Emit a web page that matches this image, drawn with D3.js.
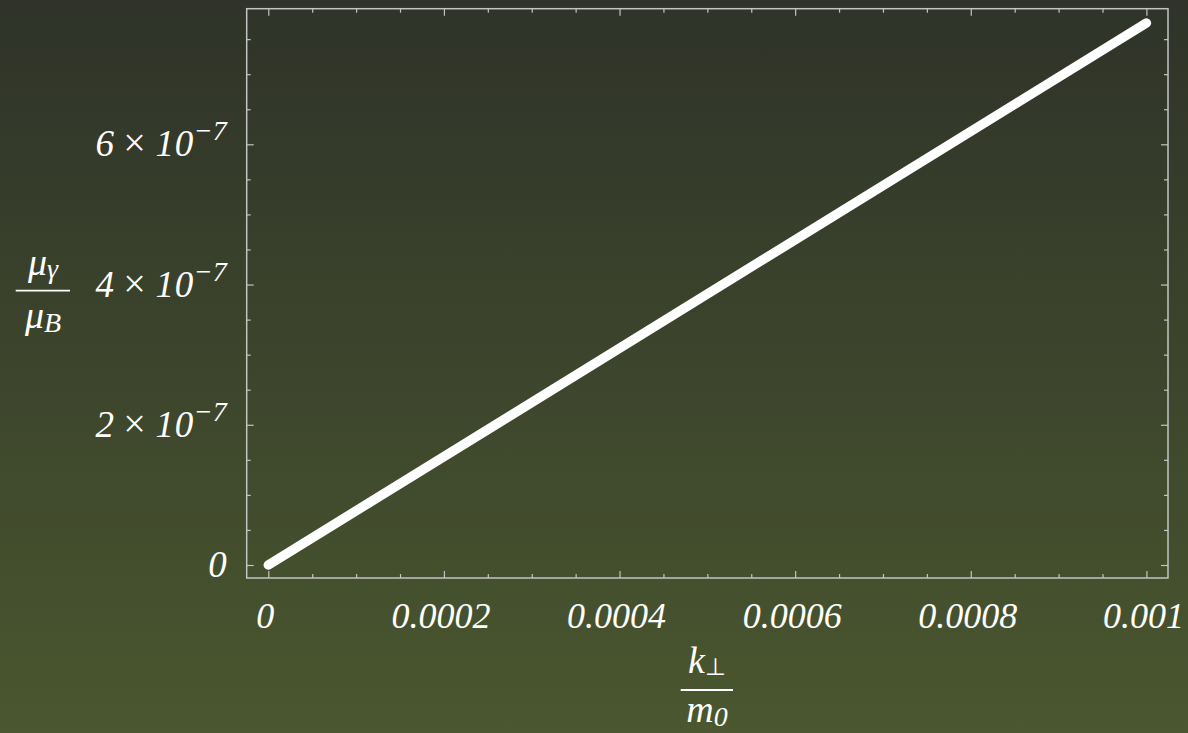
<!DOCTYPE html>
<html>
<head>
<meta charset="utf-8">
<script src="https://cdn.jsdelivr.net/npm/d3@7"></script>
<style>
  html, body { margin: 0; padding: 0; }
  svg { display: block; }
</style>
</head>
<body>
<script>
// data
const xMajor = [0, 0.0002, 0.0004, 0.0006, 0.0008, 0.001]
const xMajorLabels = ["0", "0.0002", "0.0004", "0.0006", "0.0008", "0.001"]
const xMinor = d3.range(0, 21).map(i => i * 0.00005)
const yMajor = [0, 2e-7, 4e-7, 6e-7]
const yMajorLabels = [null, "2", "4", "6"]
const yMinor = d3.range(0, 16).map(i => i * 5e-8)
const kRatio = [0, 0.001]
const muRatio = [0, 7.73e-7]

const width = 1188
const height = 733
const frame = {left: 246.7, right: 1168, top: 8.7, bottom: 578}

const svg = d3.select('body').append('svg')
  .attr("viewBox", `0 0 ${width} ${height}`)
  .attr("width", width)
  .attr("height", height)

svg.append('defs').html(`
  <linearGradient id="bg" x1="0" y1="0" x2="0" y2="1">
    <stop offset="0" stop-color="#2f3329"/>
    <stop offset="1" stop-color="#4a572f"/>
  </linearGradient>
`)

svg.append('rect')
  .attr('width', width)
  .attr('height', height)
  .attr('fill', 'url(#bg)')

const x = d3.scaleLinear()
  .domain([-2.46e-5, 0.0010246])
  .range([frame.left, frame.right])

const y = d3.scaleLinear()
  .domain([-1.854e-8, 7.934e-7])
  .range([frame.bottom, frame.top])

const frameColor = '#c4c4c4'
const font = '"Liberation Serif", "Times New Roman", serif'

function ticks(axis, vals, size, transform) {
  svg.append('g')
    .attr('transform', transform)
    .call(axis.tickValues(vals).tickSize(size).tickFormat('').tickSizeOuter(0))
    .call(g => g.select('.domain').remove())
    .call(g => g.selectAll('line').attr('stroke', frameColor).attr('stroke-width', 1.2))
}

const minorX = xMinor.filter(v => !xMajor.some(m => Math.abs(m - v) < 1e-9))
const minorY = yMinor.filter(v => !yMajor.some(m => Math.abs(m - v) < 1e-12))

ticks(d3.axisBottom(x), xMajor, -7, `translate(0,${frame.bottom})`)
ticks(d3.axisBottom(x), minorX, -4, `translate(0,${frame.bottom})`)
ticks(d3.axisTop(x), xMajor, -7, `translate(0,${frame.top})`)
ticks(d3.axisTop(x), minorX, -4, `translate(0,${frame.top})`)
ticks(d3.axisLeft(y), yMajor, -7, `translate(${frame.left},0)`)
ticks(d3.axisLeft(y), minorY, -4, `translate(${frame.left},0)`)
ticks(d3.axisRight(y), yMajor, -7, `translate(${frame.right},0)`)
ticks(d3.axisRight(y), minorY, -4, `translate(${frame.right},0)`)

svg.append('rect')
  .attr('x', frame.left)
  .attr('y', frame.top)
  .attr('width', frame.right - frame.left)
  .attr('height', frame.bottom - frame.top)
  .attr('fill', 'none')
  .attr('stroke', frameColor)
  .attr('stroke-width', 1.5)

// the curve
svg.append('path')
  .datum(kRatio.map((k, i) => [k, muRatio[i]]))
  .attr('d', d3.line().x(d => x(d[0])).y(d => y(d[1])))
  .attr('fill', 'none')
  .attr('stroke', '#ffffff')
  .attr('stroke-width', 9.5)
  .attr('stroke-linecap', 'round')

// x tick labels
svg.append('g')
  .selectAll('text')
  .data(xMajor)
  .join('text')
    .attr('x', d => x(d) - 3)
    .attr('y', frame.bottom + 50)
    .attr('text-anchor', 'middle')
    .attr('font-family', font)
    .attr('font-style', 'italic')
    .attr('font-size', 36)
    .attr('fill', '#ffffff')
    .text((d, i) => xMajorLabels[i])

// y tick labels
const yl = svg.append('g')
  .selectAll('text')
  .data(yMajor)
  .join('text')
    .attr('x', frame.left - 20)
    .attr('y', d => y(d) + 12)
    .attr('text-anchor', 'end')
    .attr('font-family', font)
    .attr('font-style', 'italic')
    .attr('font-size', 37)
    .attr('fill', '#ffffff')

yl.each(function(d, i) {
  const t = d3.select(this)
  if (yMajorLabels[i] == null) { t.text('0'); return }
  t.append('tspan').text(yMajorLabels[i] + ' ')
  t.append('tspan').attr('font-style', 'normal').attr('font-size', 40).text('\u00d7')
  t.append('tspan').attr('letter-spacing', 0.6).text(' 10')
  t.append('tspan').attr('dy', -16).attr('font-size', 28).text('\u22127')
})

// axis labels as fractions
function fraction(cx, lineY, x1, x2, numDy, denDy, top, bottom) {
  svg.append('line')
    .attr('x1', x1).attr('x2', x2)
    .attr('y1', lineY).attr('y2', lineY)
    .attr('stroke', '#ffffff')
    .attr('stroke-width', 1.8)
  const num = svg.append('text')
    .attr('x', cx).attr('y', lineY + numDy)
    .attr('text-anchor', 'middle')
    .attr('font-family', font).attr('font-style', 'italic')
    .attr('font-size', 38).attr('fill', '#ffffff')
  top(num)
  const den = svg.append('text')
    .attr('x', cx).attr('y', lineY + denDy)
    .attr('text-anchor', 'middle')
    .attr('font-family', font).attr('font-style', 'italic')
    .attr('font-size', 38).attr('fill', '#ffffff')
  bottom(den)
}

fraction(707, 690, 680.7, 733, -17, 32,
  t => { t.append('tspan').text('k'); t.append('tspan').attr('font-style', 'normal').attr('font-size', 24).attr('dy', 2).text('\u22a5') },
  t => { t.append('tspan').text('m'); t.append('tspan').attr('font-size', 28).attr('dy', 4).text('0') })

fraction(43, 290.7, 15.7, 70, -16, 37,
  t => { t.append('tspan').text('\u03bc'); t.append('tspan').attr('font-size', 28).attr('dy', 3).text('\u03b3') },
  t => { t.append('tspan').text('\u03bc'); t.append('tspan').attr('font-size', 28).attr('dy', 4).text('B') })
</script>
</body>
</html>
